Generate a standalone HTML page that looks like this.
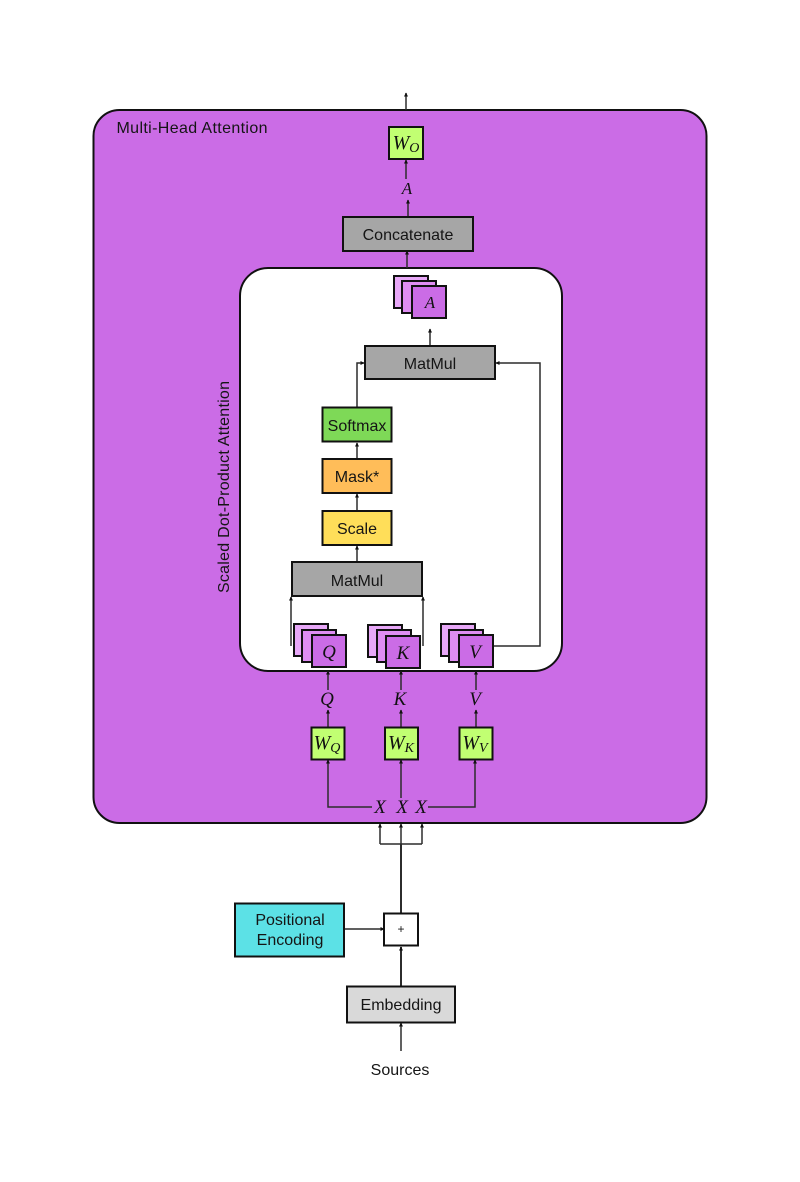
<!DOCTYPE html>
<html><head><meta charset="utf-8"><style>
html,body{margin:0;padding:0;background:#fff}
svg{display:block}
.s{font-family:"Liberation Sans",sans-serif;font-size:16px;fill:#151515;text-anchor:middle}
.m{font-family:"Liberation Serif",serif;font-style:italic;fill:#111;text-anchor:middle}
.b{stroke:#111;stroke-width:2}
.l{fill:none;stroke:#2c2c2c;stroke-width:1.5}
</style></head><body>
<svg width="800" height="1182" viewBox="0 0 800 1182" xmlns="http://www.w3.org/2000/svg">
<defs><marker id="a" markerWidth="4" markerHeight="4" refX="3.500" refY="2" orient="auto" markerUnits="userSpaceOnUse"><path d="M0 0L4 2L0 4z" fill="#111"/></marker></defs>
<rect width="800" height="1182" fill="#fff"/>
<rect x="93.500" y="110" width="613" height="713" rx="26" fill="#cb6ce6" stroke="#111" stroke-width="2"/>
<text x="192" y="133" class="s" textLength="151" lengthAdjust="spacing">Multi-Head Attention</text>
<rect x="240" y="268" width="322" height="403" rx="28" fill="#fff" stroke="#111" stroke-width="2"/>
<text class="s" transform="translate(229,487) rotate(-90)" textLength="212" lengthAdjust="spacing">Scaled Dot-Product Attention</text>

<g class="l">
<path d="M406 110V93" marker-end="url(#a)"/>
<path d="M406 179V160" marker-end="url(#a)"/>
<path d="M408 217V200" marker-end="url(#a)"/>
<path d="M407 268V251" marker-end="url(#a)"/>
<path d="M430 345V329" marker-end="url(#a)"/>
<path d="M357 407V363H364" marker-end="url(#a)"/>
<path d="M357 458V443" marker-end="url(#a)"/>
<path d="M357 510V494" marker-end="url(#a)"/>
<path d="M357 562V546" marker-end="url(#a)"/>
<path d="M291 646V597" marker-end="url(#a)"/>
<path d="M423 646V597" marker-end="url(#a)"/>
<path d="M494 646H540V363H496" marker-end="url(#a)"/>
<path d="M328 690V671" marker-end="url(#a)"/>
<path d="M401 690V671" marker-end="url(#a)"/>
<path d="M476 690V671" marker-end="url(#a)"/>
<path d="M328 727V710" marker-end="url(#a)"/>
<path d="M401 727V710" marker-end="url(#a)"/>
<path d="M476 727V710" marker-end="url(#a)"/>
<path d="M372 807H328V760" marker-end="url(#a)"/>
<path d="M401 798V760" marker-end="url(#a)"/>
<path d="M428 807H475V760" marker-end="url(#a)"/>
<path d="M380 844V824" marker-end="url(#a)"/>
<path d="M422 844V824" marker-end="url(#a)"/>
<path d="M380 844H422"/>
<path d="M401 844V824" marker-end="url(#a)"/>
<path d="M401 913V844" style="stroke-width:2"/>
<path d="M345 929H384" marker-end="url(#a)"/>
<path d="M401 986V947" style="stroke-width:2" marker-end="url(#a)"/>
<path d="M401 1051V1023" marker-end="url(#a)"/>
</g>

<rect x="389" y="127" width="34" height="32" fill="#c1ff72" class="b"/>
<text x="406" y="149" class="m" style="font-size:20px">W<tspan font-size="14" dy="3">O</tspan></text>
<text x="407" y="194" class="m" style="font-size:17px">A</text>
<rect x="343" y="217" width="130" height="34" fill="#a6a6a6" class="b"/>
<text x="408" y="240" class="s">Concatenate</text>

<rect x="394" y="276" width="34" height="32" fill="#e8a8f8" class="b"/>
<rect x="402" y="281" width="34" height="32" fill="#df8df2" class="b"/>
<rect x="412" y="286" width="34" height="32" fill="#cb6ce6" class="b"/>
<text x="430" y="308" class="m" style="font-size:17px">A</text>

<rect x="365" y="346" width="130" height="33" fill="#a6a6a6" class="b"/>
<text x="430" y="369" class="s">MatMul</text>
<rect x="322.500" y="407.500" width="69" height="34" fill="#7ed957" class="b"/>
<text x="357" y="431" class="s">Softmax</text>
<rect x="322.500" y="459" width="69" height="34" fill="#ffbd59" class="b"/>
<text x="357" y="482" class="s">Mask*</text>
<rect x="322.500" y="511" width="69" height="34" fill="#ffde59" class="b"/>
<text x="357" y="534" class="s">Scale</text>
<rect x="292" y="562" width="130" height="34" fill="#a6a6a6" class="b"/>
<text x="357" y="586" class="s">MatMul</text>

<rect x="294" y="624" width="34" height="32" fill="#e8a8f8" class="b"/>
<rect x="302" y="630" width="34" height="32" fill="#df8df2" class="b"/>
<rect x="312" y="635" width="34" height="32" fill="#cb6ce6" class="b"/>
<text x="329" y="658" class="m" style="font-size:19px">Q</text>
<rect x="368" y="625" width="34" height="32" fill="#e8a8f8" class="b"/>
<rect x="377" y="630" width="34" height="32" fill="#df8df2" class="b"/>
<rect x="386" y="636" width="34" height="32" fill="#cb6ce6" class="b"/>
<text x="403" y="659" class="m" style="font-size:19px">K</text>
<rect x="441" y="624" width="34" height="32" fill="#e8a8f8" class="b"/>
<rect x="449" y="630" width="34" height="32" fill="#df8df2" class="b"/>
<rect x="459" y="635" width="34" height="32" fill="#cb6ce6" class="b"/>
<text x="475" y="658" class="m" style="font-size:19px">V</text>

<text x="327" y="705" class="m" style="font-size:19px">Q</text>
<text x="400" y="705" class="m" style="font-size:19px">K</text>
<text x="475" y="705" class="m" style="font-size:19px">V</text>

<rect x="311.500" y="727.500" width="33" height="32" fill="#c1ff72" class="b"/>
<text x="327" y="749" class="m" style="font-size:20px">W<tspan font-size="14" dy="3">Q</tspan></text>
<rect x="385" y="727.500" width="33" height="32" fill="#c1ff72" class="b"/>
<text x="401" y="749" class="m" style="font-size:20px">W<tspan font-size="14" dy="3">K</tspan></text>
<rect x="459.500" y="727.500" width="33" height="32" fill="#c1ff72" class="b"/>
<text x="475" y="749" class="m" style="font-size:20px">W<tspan font-size="14" dy="3">V</tspan></text>

<text x="380" y="813" class="m" style="font-size:19px">X</text>
<text x="402" y="813" class="m" style="font-size:19px">X</text>
<text x="421" y="813" class="m" style="font-size:19px">X</text>

<rect x="235" y="903.500" width="109" height="53" fill="#5ce1e6" class="b"/>
<text x="290" y="925" class="s">Positional</text>
<text x="290" y="945" class="s">Encoding</text>
<rect x="384" y="913.500" width="34" height="32" fill="#fff" class="b"/>
<text x="401" y="933" class="s" style="font-size:12px">+</text>
<rect x="347" y="986.500" width="108" height="36" fill="#d9d9d9" class="b"/>
<text x="401" y="1010" class="s">Embedding</text>
<text x="400" y="1075" class="s">Sources</text>
</svg>
</body></html>
